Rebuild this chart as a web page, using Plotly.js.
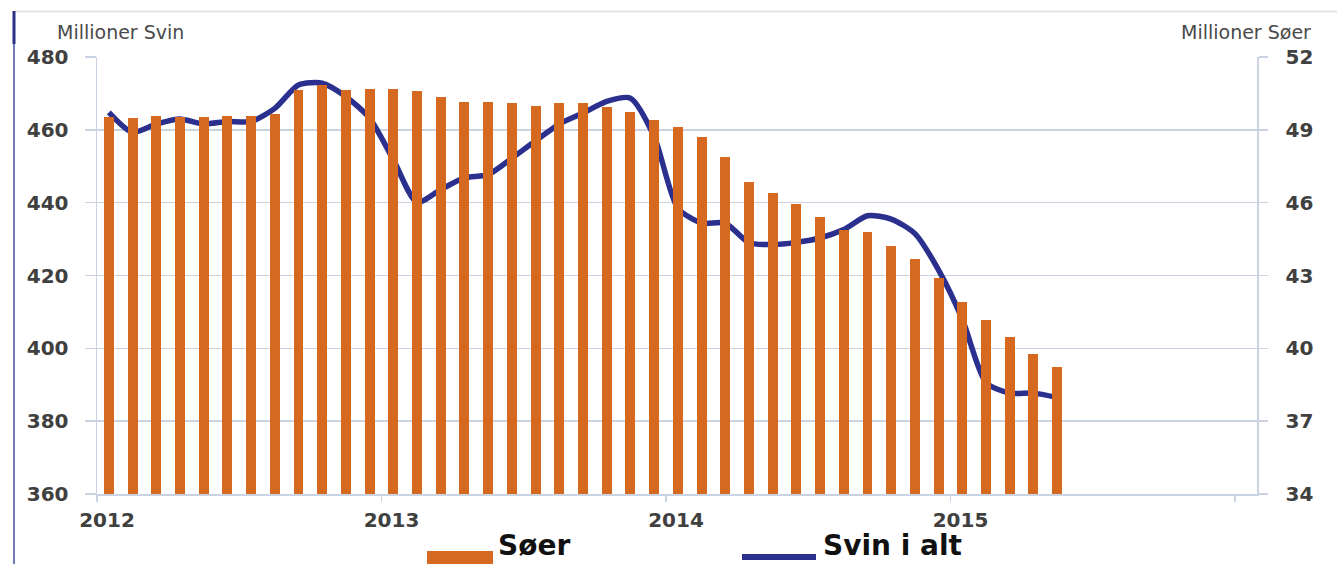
<!DOCTYPE html>
<html>
<head>
<meta charset="utf-8">
<script src="https://cdn.plot.ly/plotly-3.0.1.min.js"></script>
<style>
  html, body { margin: 0; padding: 0; background: #ffffff; }
  #chart { width: 1337px; height: 564px; }
</style>
</head>
<body>
<div id="chart"></div>
<script>
// ---- Data ----
const months = [
  '2012-01','2012-02','2012-03','2012-04','2012-05','2012-06','2012-07','2012-08','2012-09','2012-10','2012-11','2012-12',
  '2013-01','2013-02','2013-03','2013-04','2013-05','2013-06','2013-07','2013-08','2013-09','2013-10','2013-11','2013-12',
  '2014-01','2014-02','2014-03','2014-04','2014-05','2014-06','2014-07','2014-08','2014-09','2014-10','2014-11','2014-12',
  '2015-01','2015-02','2015-03','2015-04','2015-05'
];
// Søer (millioner) – right axis
const soer = [
  49.53, 49.50, 49.57, 49.52, 49.53, 49.57, 49.55, 49.64, 50.64, 50.85, 50.64, 50.68,
  50.68, 50.60, 50.34, 50.14, 50.14, 50.10, 50.00, 50.12, 50.10, 49.96, 49.73, 49.41,
  49.11, 48.70, 47.90, 46.86, 46.40, 45.95, 45.40, 44.89, 44.79, 44.20, 43.68, 42.90,
  41.92, 41.15, 40.46, 39.75, 39.25
];
// Svin i alt (millioner) – left axis
const svin = [
  464.8, 459.3, 461.6, 463.0, 461.6, 462.3, 462.3, 465.9, 472.3, 472.8, 469.1, 463.2,
  451.8, 440.1, 443.6, 446.8, 447.7, 452.2, 457.0, 461.6, 464.6, 467.8, 468.7, 458.2,
  438.5, 434.4, 434.4, 429.0, 428.5, 429.1, 430.3, 432.6, 436.4, 435.5, 431.5, 421.5,
  408.0, 390.6, 387.7, 387.7, 386.5
];
const yearLabels = ['2012', '2013', '2014', '2015', ''];
const leftTicks = [360, 380, 400, 420, 440, 460, 480];
const rightTicks = [34, 37, 40, 43, 46, 49, 52];
const seriesNames = ['Søer', 'Svin i alt'];
const axisTitles = ['Millioner Svin', 'Millioner Søer'];

// ---- Layout helpers ----
const W = 1337, H = 564;
const M = { l: 97, r: 80, t: 57, b: 70 };
const PW = W - M.l - M.r, PH = H - M.t - M.b;
const px = v => (v - M.l) / PW;
const py = v => (H - M.b - v) / PH;

const xPos = months.map((m, i) => i + 0.5);
const yearTickVals = yearLabels.map((y, i) => i * 12);

const orange = '#d4691f';
const navy = '#2b2f8e';
const grid = '#c9d3e2';
const tickFont = { family: 'DejaVu Sans', size: 20, color: '#404040', weight: 'bold' };

const traces = [
  {
    type: 'bar', name: seriesNames[0], x: xPos, y: soer, yaxis: 'y2',
    width: 0.42, marker: { color: orange, line: { width: 0 } }, showlegend: false,
    hoverinfo: 'skip'
  },
  {
    type: 'scatter', mode: 'lines', name: seriesNames[1], x: xPos, y: svin, yaxis: 'y',
    line: { color: navy, width: 5.5, shape: 'spline', smoothing: 0.7 }, showlegend: false,
    hoverinfo: 'skip'
  }
];

const layout = {
  width: W, height: H,
  margin: M,
  paper_bgcolor: '#ffffff', plot_bgcolor: '#ffffff',
  showlegend: false,
  bargap: 0,
  xaxis: {
    range: [0, 48.93], tickmode: 'array', tickvals: yearTickVals, ticktext: yearLabels,
    showgrid: false, zeroline: false, showline: true, linecolor: grid, linewidth: 1.5,
    ticks: 'outside', ticklen: 6, tickwidth: 1.5, tickcolor: grid,
    tickfont: tickFont, ticklabelshift: 10, ticklabelstandoff: 1, fixedrange: true
  },
  yaxis: {
    range: [360, 480], tickmode: 'array', tickvals: leftTicks,
    showgrid: true, gridcolor: grid, gridwidth: 1.5, zeroline: false,
    showline: true, linecolor: grid, linewidth: 1.5,
    ticks: 'outside', ticklen: 11, tickwidth: 1.5, tickcolor: grid,
    tickfont: tickFont, ticklabelstandoff: 12, fixedrange: true
  },
  yaxis2: {
    range: [34, 52], tickmode: 'array', tickvals: rightTicks,
    overlaying: 'y', side: 'right', showgrid: false, zeroline: false,
    showline: true, linecolor: grid, linewidth: 1.5,
    ticks: 'outside', ticklen: 9, tickwidth: 1.5, tickcolor: grid,
    tickfont: tickFont, ticklabelstandoff: 14, fixedrange: true
  },
  shapes: [
    // top border line
    { type: 'line', xref: 'paper', yref: 'paper', x0: px(14), x1: px(1337), y0: py(11.5), y1: py(11.5),
      line: { color: '#e3e3e3', width: 2 } },
    // left border line
    { type: 'line', xref: 'paper', yref: 'paper', x0: px(14), x1: px(14), y0: py(11), y1: py(564),
      line: { color: '#7079b8', width: 2 } },
    { type: 'line', xref: 'paper', yref: 'paper', x0: px(14), x1: px(14), y0: py(11), y1: py(44),
      line: { color: '#2b3184', width: 3 } },
    // legend symbols
    { type: 'rect', xref: 'paper', yref: 'paper', x0: px(427), x1: px(493), y0: py(551), y1: py(570),
      fillcolor: orange, line: { width: 0 } },
    { type: 'line', xref: 'paper', yref: 'paper', x0: px(742), x1: px(816), y0: py(557), y1: py(557),
      line: { color: navy, width: 6 } }
  ],
  annotations: [
    { xref: 'paper', yref: 'paper', x: px(55), y: py(32), xanchor: 'left', yanchor: 'middle',
      text: axisTitles[0], showarrow: false, font: { family: 'DejaVu Sans', size: 19, color: '#4a4a4a' } },
    { xref: 'paper', yref: 'paper', x: px(1313), y: py(32), xanchor: 'right', yanchor: 'middle',
      text: axisTitles[1], showarrow: false, font: { family: 'DejaVu Sans', size: 19, color: '#4a4a4a' } },
    { xref: 'paper', yref: 'paper', x: px(497), y: py(563), xanchor: 'left', yanchor: 'bottom',
      text: seriesNames[0], showarrow: false, borderpad: 0,
      font: { family: 'DejaVu Sans', size: 28, color: '#111111', weight: 'bold' } },
    { xref: 'paper', yref: 'paper', x: px(822), y: py(563), xanchor: 'left', yanchor: 'bottom',
      text: seriesNames[1], showarrow: false, borderpad: 0,
      font: { family: 'DejaVu Sans', size: 28, color: '#111111', weight: 'bold' } }
  ]
};

Plotly.newPlot('chart', traces, layout, { displayModeBar: false, staticPlot: true });
</script>
</body>
</html>
